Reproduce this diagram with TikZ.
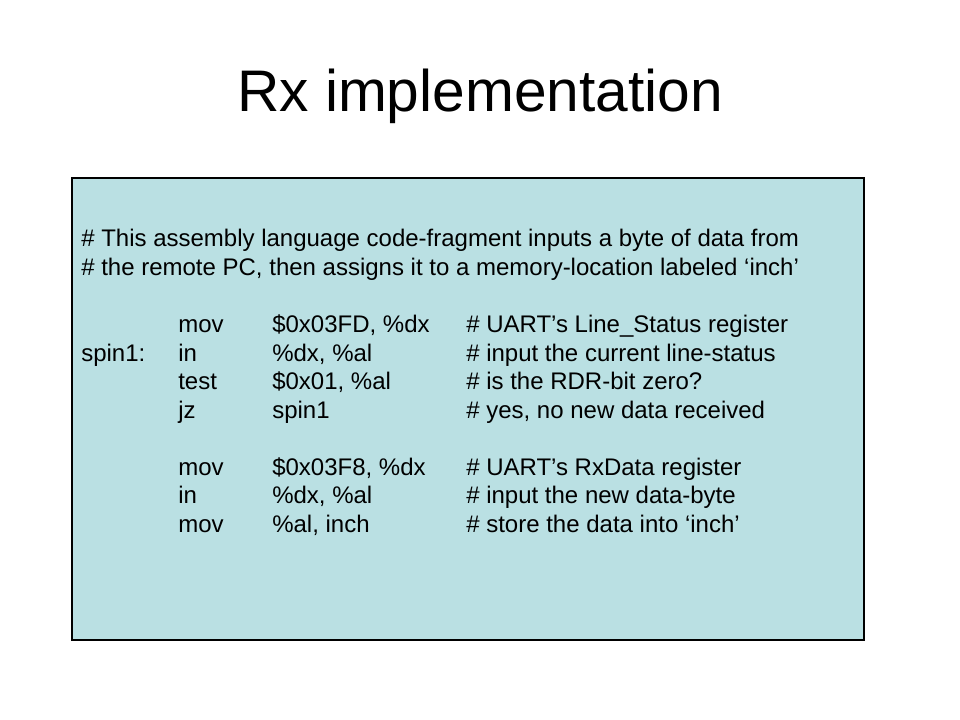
\documentclass[tikz,border=0pt]{standalone}
\usepackage{fontspec}
\setmainfont{Liberation Sans}
\definecolor{rxbox}{RGB}{186,224,227}
\tikzset{
	codetext/.style={anchor=base west, inner sep=0pt, font=\fontsize{18}{21}\selectfont},
	titletext/.style={anchor=base, inner sep=0pt, font=\fontsize{44}{52}\selectfont}
}

\begin{document}
\begin{tikzpicture}[x=0.75pt,y=0.75pt,yscale=-1,xscale=1]
	\useasboundingbox (0,0) rectangle (960,720);
	\node (title) at (480,112) [titletext] {Rx implementation};
	\draw [fill=rxbox, line width=1pt] (72,178) rectangle (864,640);
	% header comment
	\node (c1) at (81,247) [codetext] {\# This assembly language code-fragment inputs a byte of data from};
	\node (c2) at (81,275.5) [codetext] {\# the remote PC, then assigns it to a memory-location labeled ‘inch’};
	% wait loop
	\node (op1) at (178,332.5) [codetext] {mov};
	\node (arg1) at (272,332.5) [codetext] {\$0x03FD, \%dx};
	\node (cm1) at (466,332.5) [codetext] {\# UART’s Line\_Status register};
	\node (lbl) at (81,361) [codetext] {spin1:};
	\node (op2) at (178,361) [codetext] {in};
	\node (arg2) at (272,361) [codetext] {\%dx, \%al};
	\node (cm2) at (466,361) [codetext] {\# input the current line-status};
	\node (op3) at (178,389.5) [codetext] {test};
	\node (arg3) at (272,389.5) [codetext] {\$0x01, \%al};
	\node (cm3) at (466,389.5) [codetext] {\# is the RDR-bit zero?};
	\node (op4) at (178,418) [codetext] {jz};
	\node (arg4) at (272,418) [codetext] {spin1};
	\node (cm4) at (466,418) [codetext] {\# yes, no new data received};
	% read the byte
	\node (op5) at (178,475) [codetext] {mov};
	\node (arg5) at (272,475) [codetext] {\$0x03F8, \%dx};
	\node (cm5) at (466,475) [codetext] {\# UART’s RxData register};
	\node (op6) at (178,503.5) [codetext] {in};
	\node (arg6) at (272,503.5) [codetext] {\%dx, \%al};
	\node (cm6) at (466,503.5) [codetext] {\# input the new data-byte};
	\node (op7) at (178,532) [codetext] {mov};
	\node (arg7) at (272,532) [codetext] {\%al, inch};
	\node (cm7) at (466,532) [codetext] {\# store the data into ‘inch’};
\end{tikzpicture}
\end{document}
